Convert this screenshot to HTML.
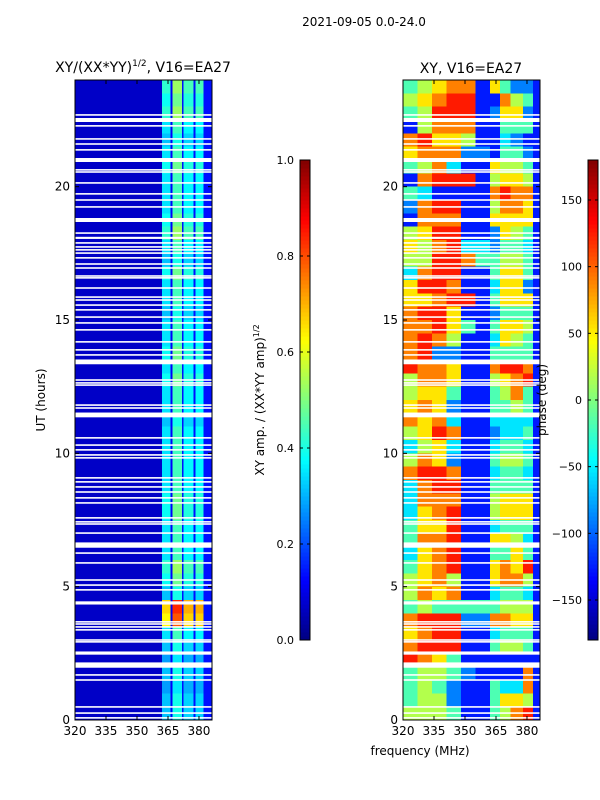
<!DOCTYPE html>
<html><head><meta charset="utf-8">
<style>
html,body{margin:0;padding:0;background:#fff;}
svg{display:block;font-family:"DejaVu Sans","Liberation Sans",sans-serif;}
</style></head>
<body>
<svg id="fig" width="600" height="800" viewBox="0 0 600 800">
<text x="364" y="26" font-size="12" text-anchor="middle">2021-09-05 0.0-24.0</text>
<text x="143" y="72" font-size="14" text-anchor="middle">XY/(XX*YY)<tspan font-size="9" dy="-6">1/2</tspan><tspan dy="6">, V16=EA27</tspan></text>
<text x="471" y="73" font-size="14" text-anchor="middle">XY, V16=EA27</text>
<g id="left"></g>
<g id="right"></g>
<g id="axes"></g>
<text transform="translate(45,400) rotate(-90)" font-size="12" text-anchor="middle">UT (hours)</text>
<text x="420" y="755" font-size="12" text-anchor="middle">frequency (MHz)</text>
<text transform="translate(264,400) rotate(-90)" font-size="12" text-anchor="middle">XY amp. / (XX*YY amp)<tspan font-size="8" dy="-5">1/2</tspan></text>
<text transform="translate(546,400) rotate(-90)" font-size="12" text-anchor="middle">phase (deg)</text>
</svg>
<script>
// ---- data ----
const freqTicks = [320, 335, 350, 365, 380];
const hourTicks = [0, 5, 10, 15, 20];
const ampTicks = [0.0, 0.2, 0.4, 0.6, 0.8, 1.0];
const phaseTicks = [-150, -100, -50, 0, 50, 100, 150];
// left panel column edges (MHz) and base values
const leftEdges = [320, 362, 366.3, 367.2, 371.8, 372.6, 377.3, 378.2, 382.2, 386.3];
const leftColBase = [0.07, 0.35, 0.12, 0.44, 0.14, 0.37, 0.14, 0.37, 0.14];
const leftColBright = [0, 1, 0, 1, 0, 1, 0, 1, 0];
// brightness per half-hour row, from 24h downward
const leftRowLevel = [1.2,1.1,1.2,1.0,0.9,1.0,1.1,1.0,1.0,1.0,1.1,1.2,1.0,0.9,1.1,1.0,
  1.0,0.9,1.0,1.0,1.1,1.0,1.1,1.0,1.0,0.9,1.0,1.0,1.0,1.0,1.0,1.1,
  1.1,1.0,1.0,1.0,1.2,1.1,0.9,1.9,1.8,1.0,0.9,0.8,0.9,0.8,0.9,0.9];
// right panel column edges (MHz) and phase levels (0-9 on colormap) per half-hour row
const rightEdges = [320, 327, 334, 341, 348, 355, 362, 367, 372, 378, 383, 386.3];
const rightRows = ["45677164221","56788117541","45888126621","15777114441","78665113211","67772214421",
"45731165541","17888156651","43111178771","27881157761","17771166661","56881126541",
"65783324431","55887445541","37881146641","68871136621","66788146661","78861124441",
"77864146651","78751136541","78221144441","87761178871","57761156781","56641145741",
"67621144541","76731133331","56871123341","35631134431","57621145541","78871134431",
"37881144441","37771156661","36781156661","46681134441","47781166531","36781144641",
"46781167681","56751167751","57671134431","45444445551","78882277661","67881134441",
"78881145541","87641111111","45542111171","45421143371","45521146651","55541145781"];
// flagged (blank) time gaps: centre hour and width in hours
const gapHours = [22.69,22.5,22.28,21.79,21.6,21.38,21.0,20.63,20.55,20.14,19.73,19.5,19.24,18.75,18.26,18.08,17.89,17.74,17.63,17.51,17.33,17.1,16.95,16.65,16.58,16.2,15.86,15.75,15.56,15.38,15.11,14.89,14.63,14.18,13.88,13.69,13.43,12.75,12.64,12.56,11.81,11.7,11.44,10.58,10.31,10.13,9.94,9.83,9.08,8.93,8.74,8.55,8.33,8.14,7.58,7.43,7.35,7.01,6.56,6.26,5.89,5.25,5.06,4.88,4.39,3.68,3.6,3.49,3.38,3.0,2.93,2.51,2.06,1.69,1.5,0.49,0.26,0.08];
const gapWidths = [0.06,0.15,0.06,0.06,0.06,0.06,0.15,0.06,0.06,0.06,0.06,0.06,0.06,0.15,0.06,0.08,0.06,0.06,0.06,0.06,0.06,0.06,0.06,0.06,0.06,0.06,0.06,0.06,0.06,0.06,0.06,0.06,0.06,0.06,0.06,0.06,0.18,0.06,0.06,0.06,0.06,0.06,0.18,0.06,0.06,0.06,0.06,0.06,0.06,0.06,0.06,0.06,0.06,0.06,0.06,0.06,0.06,0.06,0.2,0.06,0.06,0.06,0.06,0.06,0.12,0.06,0.06,0.06,0.06,0.06,0.06,0.12,0.2,0.06,0.06,0.06,0.06,0.06];

// ---- helpers ----
const NS = "http://www.w3.org/2000/svg";
const PL = {x0:75, x1:212}, PR = {x0:403, x1:540};
const yTop = 80, yBot = 720;
const fMin = 320, fMax = 386.3;
function xs(p, f){ return p.x0 + (f - fMin) / (fMax - fMin) * (p.x1 - p.x0); }
function ys(h){ return yBot - h / 24 * (yBot - yTop); }
function jet(v){
  v = Math.max(0, Math.min(1, v));
  const c = t => Math.round(255 * Math.max(0, Math.min(1, 1.5 - Math.abs(t))));
  return `rgb(${c(4*v-3)},${c(4*v-2)},${c(4*v-1)})`;
}
function mk(tag, attrs, parent){
  const e = document.createElementNS(NS, tag);
  for (const k in attrs) e.setAttribute(k, attrs[k]);
  parent.appendChild(e); return e;
}
const L = document.getElementById('left'), R = document.getElementById('right'), A = document.getElementById('axes');

// left heatmap
leftRowLevel.forEach((lv, r) => {
  const h1 = 24 - r * 0.5, h0 = h1 - 0.5;
  for (let c = 0; c < leftColBase.length; c++){
    const v = leftColBright[c] ? leftColBase[c] * lv : leftColBase[c];
    const x = xs(PL, leftEdges[c]), x2 = xs(PL, leftEdges[c+1]);
    const el = mk('rect', {x:x, y:ys(h1), width:x2-x+0.5, height:ys(h0)-ys(h1)+0.5, fill:jet(v), 'shape-rendering':'crispEdges'}, L);
    
    
  }
});
// right heatmap
rightRows.forEach((row, r) => {
  const h1 = 24 - r * 0.5, h0 = h1 - 0.5;
  for (let c = 0; c < row.length; c++){
    const v = (parseInt(row[c]) + 0.5) / 10;
    const x = xs(PR, rightEdges[c]), x2 = xs(PR, rightEdges[c+1]);
    const el = mk('rect', {x:x, y:ys(h1), width:x2-x+0.5, height:ys(h0)-ys(h1)+0.5, fill:jet(v), 'shape-rendering':'crispEdges'}, R);
    
    
  }
});
// gaps
gapHours.forEach((h, i) => {
  const w = gapWidths[i];
  [PL, PR].forEach(p => {
    const el = mk('rect', {x:p.x0, y:ys(h + w/2), width:p.x1-p.x0, height:Math.max(1.3, ys(h - w/2) - ys(h + w/2)), fill:'#fff'}, p === PL ? L : R);
    
    
  });
});
// axes frames and ticks
[PL, PR].forEach(p => {
  const fr = mk('rect', {x:p.x0, y:yTop, width:p.x1-p.x0, height:yBot-yTop, fill:'none', stroke:'#000', 'stroke-width':1}, A);
  
  
  freqTicks.forEach(f => {
    const x = xs(p, f);
    mk('line', {x1:x, x2:x, y1:yBot, y2:yBot-4, stroke:'#000'}, A);
    mk('line', {x1:x, x2:x, y1:yTop, y2:yTop+4, stroke:'#000'}, A);
    const t = mk('text', {x:x, y:yBot+15, 'font-size':12, 'text-anchor':'middle'}, A);
    t.textContent = f;
    
    
  });
  hourTicks.forEach(h => {
    const y = ys(h);
    mk('line', {x1:p.x0, x2:p.x0+4, y1:y, y2:y, stroke:'#000'}, A);
    mk('line', {x1:p.x1, x2:p.x1-4, y1:y, y2:y, stroke:'#000'}, A);
    const t = mk('text', {x:p.x0-5, y:y+4, 'font-size':12, 'text-anchor':'end'}, A);
    t.textContent = h;
    
    
  });
});
// colorbars
function colorbar(x, lo, hi, ticks, fmt, name){
  const g = mk('g', {}, A);
  
  
  const y0 = 160, y1 = 640, n = 120;
  for (let i = 0; i < n; i++){
    mk('rect', {x:x, y:y1 - (i+1)*(y1-y0)/n, width:10, height:(y1-y0)/n + 0.6, fill:jet((i+0.5)/n), 'shape-rendering':'crispEdges'}, g);
  }
  mk('rect', {x:x, y:y0, width:10, height:y1-y0, fill:'none', stroke:'#000'}, g);
  ticks.forEach(v => {
    const y = y1 - (v - lo) / (hi - lo) * (y1 - y0);
    mk('line', {x1:x, x2:x+3, y1:y, y2:y, stroke:'#000'}, g);
    mk('line', {x1:x+10, x2:x+7, y1:y, y2:y, stroke:'#000'}, g);
    const t = mk('text', {x:x-6, y:y+4, 'font-size':11, 'text-anchor':'end'}, g);
    t.textContent = fmt(v);
    
    
  });
}
colorbar(300, 0, 1, ampTicks, v => v.toFixed(1), 'amplitude-colorbar');
colorbar(588, -180, 180, phaseTicks, v => (v < 0 ? '\u2212' + (-v) : '' + v), 'phase-colorbar');
</script>
</body></html>
